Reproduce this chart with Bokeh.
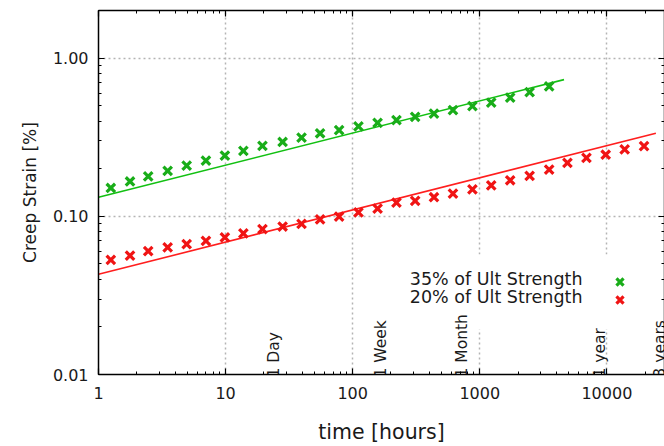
import numpy as np
from bokeh.plotting import figure
from bokeh.models import (LogAxis, LogTicker, PrintfTickFormatter, Label, Legend,
                          LegendItem, BoxAnnotation, Range1d)
from bokeh.core.properties import value
from bokeh.embed import file_html
from bokeh.resources import INLINE

# ---- data ----
time_hours = [1.25, 1.77, 2.46, 3.50, 4.94, 7.0, 9.87, 13.8, 19.5, 28.1, 39.6, 55.4,
              78.2, 111, 157, 221, 310, 436, 615, 875, 1230, 1734, 2467, 3513,
              4893, 6906, 9786, 13800, 19600]
strain_35 = [0.151, 0.166, 0.179, 0.194, 0.209, 0.225, 0.242, 0.259, 0.279, 0.295,
             0.314, 0.335, 0.351, 0.370, 0.389, 0.406, 0.425, 0.446, 0.469, 0.497,
             0.523, 0.562, 0.609, 0.662]
strain_20 = [0.0531, 0.0564, 0.0602, 0.0636, 0.0666, 0.0700, 0.0735, 0.0781, 0.0830,
             0.0862, 0.0897, 0.0957, 0.0995, 0.106, 0.112, 0.122, 0.125, 0.132, 0.139,
             0.148, 0.157, 0.169, 0.180, 0.197, 0.218, 0.234, 0.245, 0.265, 0.278]
fit_35_t = [1, 4600]
fit_35_s = [0.132, 0.731]
fit_20_t = [1, 24300]
fit_20_s = [0.0430, 0.335]
milestone_t = [24, 168, 720, 8760, 26280]
milestone_labels = ["1 Day", "1 Week", "1 Month", "1 year", "3 years"]
series_labels = ["35% of Ult Strength", "20% of Ult Strength"]
x_limits = (1, 28400)
y_limits = (0.01, 2.0)

GREEN = "#19ad19"
GREEN_LINE = "#12c012"
RED = "#f01414"
RED_LINE = "#ff1e1e"
FONT = "DejaVu Sans"

p = figure(width=664, height=446, x_axis_type="log", y_axis_type="log",
           x_range=Range1d(*x_limits), y_range=Range1d(*y_limits),
           output_backend="svg", toolbar_location=None,
           min_border_left=98, min_border_right=0, min_border_top=10, min_border_bottom=70,
           background_fill_color="white", border_fill_color="white")
p.outline_line_color = None

# opaque key area (interrupts grid lines like the reference)
key_box = BoxAnnotation(left=302, right=566, bottom=45, top=120,
                         left_units="screen", right_units="screen",
                         bottom_units="screen", top_units="screen",
                         fill_color="white", fill_alpha=1.0, line_color=None,
                         level="underlay")
p.add_layout(key_box)

# grid
for g in (p.xgrid, p.ygrid):
    g.grid_line_color = "#b4b4b4"
    g.grid_line_dash = "2 3"
    g.grid_line_width = 1.5

# axes
def style_axis(ax, labels=True):
    ax.ticker = LogTicker(num_minor_ticks=10)
    ax.axis_line_color = "black"
    ax.axis_line_width = 1.5
    ax.major_tick_line_color = "black"
    ax.minor_tick_line_color = "black"
    ax.major_tick_in = 6
    ax.major_tick_out = 0
    ax.minor_tick_in = 3
    ax.minor_tick_out = 0
    ax.major_tick_line_width = 1.2
    ax.minor_tick_line_width = 1
    if labels:
        ax.major_label_text_font = FONT
        ax.major_label_text_font_size = "16px"
        ax.major_label_text_color = "#1a1a1a"
        ax.axis_label_text_font = FONT
        ax.axis_label_text_font_style = "normal"
        ax.axis_label_text_color = "#1a1a1a"
    else:
        ax.major_label_text_font_size = "1px"
        ax.major_label_text_alpha = 0
        ax.major_label_standoff = 0

xa = p.xaxis[0]
ya = p.yaxis[0]
style_axis(xa)
style_axis(ya)
xa.formatter = PrintfTickFormatter(format="%.0f")
ya.formatter = PrintfTickFormatter(format="%.2f")
xa.axis_label = "time [hours]"
ya.axis_label = "Creep Strain [%]"
xa.axis_label_text_font_size = "20.5px"
ya.axis_label_text_font_size = "17px"
xa.major_label_standoff = 12
xa.axis_label_standoff = 18
ya.major_label_standoff = 10
ya.axis_label_standoff = 10

top_ax = LogAxis()
right_ax = LogAxis()
style_axis(top_ax, labels=False)
style_axis(right_ax, labels=False)
p.add_layout(top_ax, "above")
p.add_layout(right_ax, "right")

# fit lines
p.line(fit_35_t, fit_35_s, line_color=GREEN_LINE, line_width=1.6)
p.line(fit_20_t, fit_20_s, line_color=RED_LINE, line_width=1.6)

# data points
r35 = p.scatter(time_hours[:len(strain_35)], strain_35, marker="x", size=12,
                line_color=GREEN, line_width=3.2)
r20 = p.scatter(time_hours[:len(strain_20)], strain_20, marker="x", size=12,
                line_color=RED, line_width=3.2)

# milestone labels
p.text(x=milestone_t, y=[y_limits[0]] * len(milestone_t), text=milestone_labels,
       angle=np.pi / 2, text_align="left", text_baseline="middle", y_offset=3,
       text_font=value(FONT), text_font_size="15.5px", text_color="#1a1a1a")

# key: right-aligned text followed by marker sample
for i, lbl in enumerate(series_labels):
    p.add_layout(Label(x=484, y=96 - 18 * i, x_units="screen", y_units="screen",
                       text=lbl, text_align="right", text_baseline="middle",
                       text_font=FONT, text_font_size="17.5px", text_color="#1a1a1a"))

for i, rend in enumerate([r35, r20]):
    lg = Legend(items=[LegendItem(label=" ", renderers=[rend])],
                location=(508.5, 80.5 - 18 * i), padding=0, margin=0, spacing=0,
                glyph_width=25, glyph_height=25, label_height=25, label_width=2,
                label_standoff=0, label_text_font_size="8px",
                border_line_color=None, background_fill_alpha=0)
    p.add_layout(lg)

open("out.html", "w").write(file_html(p, INLINE))
